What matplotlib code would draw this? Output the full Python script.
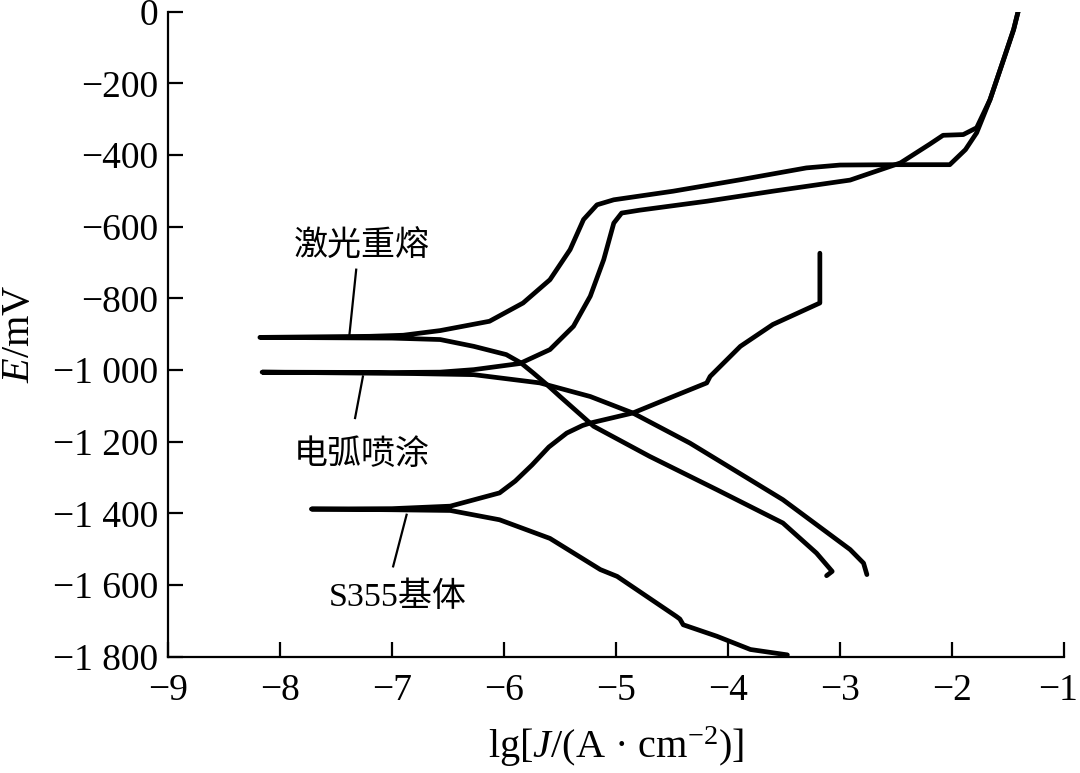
import matplotlib.pyplot as plt
import matplotlib.transforms as mtransforms

plt.rcParams['font.family'] = ['Liberation Serif', 'Noto Sans CJK SC']
plt.rcParams['mathtext.fontset'] = 'custom'
plt.rcParams['mathtext.rm'] = 'Liberation Serif'
plt.rcParams['mathtext.it'] = 'Liberation Serif:italic'

# axis ticks
x_ticks = [-9, -8, -7, -6, -5, -4, -3, -2, -1]
y_ticks = [0, -200, -400, -600, -800, -1000, -1200, -1400, -1600, -1800]
y_tick_labels = ['0', '\u2212200', '\u2212400', '\u2212600', '\u2212800', '\u22121 000',
                 '\u22121 200', '\u22121 400', '\u22121 600', '\u22121 800']

# laser remelted: cathodic end -> Ecorr -> anodic end
laser_lgJ = [-3.12, -3.07, -3.21, -3.51, -4.10, -4.70, -5.20, -5.50, -5.62, -5.74, -5.85,
             -5.98, -6.27, -6.57, -7.00, -8.18, -7.20, -6.90, -6.57, -6.13, -5.83, -5.59,
             -5.41, -5.29, -5.17, -5.02, -4.49, -3.89, -3.30, -3.00, -2.50, -2.02, -1.88,
             -1.78, -1.66, -1.54, -1.45, -1.41]
laser_E = [-1574, -1562, -1511, -1427, -1334, -1241, -1157, -1074, -1040, -1008, -980,
           -957, -934, -915, -911, -909, -906, -903, -890, -864, -813, -748,
           -664, -580, -539, -525, -501, -469, -436, -428, -427, -427, -385,
           -338, -245, -134, -50, 0]

# arc sprayed
arc_lgJ = [-2.76, -2.79, -2.91, -3.51, -3.83, -4.34, -4.85, -5.23, -5.68, -6.27, -6.80,
           -8.16, -7.00, -6.57, -6.27, -5.86, -5.59, -5.38, -5.23, -5.11, -5.02, -4.95,
           -4.79, -4.19, -3.60, -3.00, -2.91, -2.46, -2.20, -2.08, -1.90, -1.78, -1.66,
           -1.54, -1.45, -1.41]
arc_E = [-1571, -1539, -1501, -1362, -1301, -1204, -1120, -1074, -1036, -1013, -1010,
         -1006, -1007, -1006, -999, -982, -943, -878, -794, -692, -590, -562,
         -554, -529, -501, -474, -470, -422, -370, -345, -343, -324, -245,
         -134, -50, 0]

# S355 substrate
s355_lgJ = [-3.47, -3.80, -4.10, -4.40, -4.43, -4.46, -4.99, -5.14, -5.59, -6.04, -6.48,
            -7.00, -7.72, -7.00, -6.48, -6.04, -5.90, -5.75, -5.60, -5.44, -5.30, -5.23,
            -4.85, -4.49, -4.19, -4.16, -3.89, -3.60, -3.18, -3.18]
s355_E = [-1795, -1780, -1743, -1711, -1695, -1688, -1576, -1557, -1470, -1418, -1392,
          -1390, -1388, -1387, -1380, -1343, -1310, -1265, -1215, -1176, -1155, -1148,
          -1120, -1074, -1036, -1018, -934, -873, -813, -674]

labels = ['激光重熔', '电弧喷涂', 'S355基体']
label_pos = [(-7.27, -656), (-7.27, -1238), (-6.95, -1634)]
leader_lines = [((-7.32, -720), (-7.38, -900)),
                ((-7.26, -1018), (-7.33, -1134)),
                ((-6.87, -1404), (-6.99, -1548))]

fig = plt.figure(figsize=(10.8, 7.73), dpi=100)
ax = fig.add_axes([0.1556, 0.1505, 0.8296, 0.8344])

for xs, ys in [(laser_lgJ, laser_E), (arc_lgJ, arc_E), (s355_lgJ, s355_E)]:
    ax.plot(xs, ys, color='black', lw=3.4, solid_joinstyle='round', solid_capstyle='round')

for (p0, p1) in leader_lines:
    ax.plot([p0[0], p1[0]], [p0[1], p1[1]], color='black', lw=1.6)

for txt, (tx, ty) in zip(labels, label_pos):
    ax.text(tx, ty, txt, fontsize=24.5, ha='center', va='center',
            family=['Liberation Serif', 'Noto Sans CJK SC'])

ax.set_xlim(-9, -1)
ax.set_ylim(-1800, 0)
ax.set_xticks(x_ticks)
ax.set_yticks(y_ticks)
ax.set_yticklabels(y_tick_labels)
ax.spines['top'].set_visible(False)
ax.spines['right'].set_visible(False)
ax.spines['left'].set_linewidth(1.6)
ax.spines['bottom'].set_linewidth(1.6)
ax.tick_params(direction='in', length=11, width=1.6, labelsize=27)
ax.tick_params(axis='x', pad=12)
ax.tick_params(axis='y', pad=7)

# keep the last x label inside the canvas
last = ax.get_xticklabels()[-1]
last.set_transform(last.get_transform() + mtransforms.ScaledTranslation(-6 / 100, 0, fig.dpi_scale_trans))

ax.set_xlabel(r'lg[$\it{J}$/(A · cm$^{-2}$)]', fontsize=29)
ax.set_ylabel(r'$\it{E}$/mV', fontsize=29)
ax.xaxis.set_label_coords(0.5, -0.105)
ax.yaxis.set_label_coords(-0.145, 0.5)

fig.savefig('out.png', dpi=100)
